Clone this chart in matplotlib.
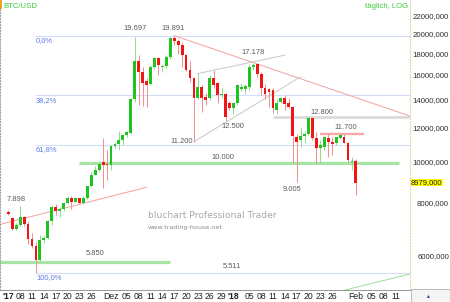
import numpy as np
import pandas as pd
import matplotlib
matplotlib.use("Agg")
import matplotlib.pyplot as plt
from matplotlib.patches import Rectangle

plt.rcParams['font.family'] = ['Liberation Sans', 'DejaVu Sans']

# daily candles, BTC/USD
dates = pd.date_range("2017-11-05", "2018-02-01", freq="D")
opens = [7650, 7410, 6990, 7120, 7450, 7170, 6610, 6380, 5890, 6580,
         6640, 7310, 7860, 7690, 7790, 8050, 8250, 8100, 8240, 8050,
         8250, 8790, 9360, 9600, 10020, 9950,
         9880, 10960, 11080, 11290, 11600, 11750, 14100, 17300, 16300, 15600,
         15300, 16780, 17600, 16800, 16850, 17700, 19640, 19330, 18900, 17940,
         16510, 15800, 14200, 15050, 14260, 14200, 15800, 15390, 14400, 14500,
         13800,
         13440, 13810, 14900, 14900, 15060, 16780, 17050, 16160, 14980, 14900,
         14820, 13300, 13890, 14190, 13810, 13510, 11500, 11300, 11550, 11650,
         12730, 11430, 10820, 10900, 11430, 11180, 11120, 11430, 11500, 11120,
         10030,
         10100]
highs = [7720, 7460, 7230, 7898, 7490, 7300, 6850, 6500, 6750, 6720,
         7330, 7960, 8000, 7860, 8100, 8330, 8370, 8300, 8270, 8370,
         8800, 9500, 9800, 10070, 11440, 10700,
         11000, 11200, 11850, 11600, 11900, 14200, 19697, 17900, 16800, 15850,
         17000, 17700, 17700, 16950, 17900, 19700, 19891, 19500, 19100, 18000,
         17300, 15900, 16250, 15200, 14600, 16100, 16500, 15500, 15000, 14600,
         14000,
         13900, 15300, 15400, 15300, 17100, 17178, 17178, 16300, 15300, 14950,
         14950, 14100, 14300, 14400, 14200, 13600, 11700, 12100, 11800, 12800,
         12750, 11800, 11300, 11450, 11650, 11500, 11500, 11700, 11650, 11200,
         10300,
         10200]
lows = [7540, 6950, 6960, 7080, 7100, 6450, 6300, 5511, 5850, 6480,
        6610, 7150, 7520, 7460, 7680, 7980, 7800, 8080, 8030, 8050,
        8200, 8770, 9350, 9580, 8700, 9100,
        9600, 10800, 10700, 11000, 11500, 11700, 13900, 13700, 13600, 13500,
        15250, 16600, 16100, 16300, 16700, 17500, 18900, 18050, 16780, 16400,
        15500, 11200, 14100, 13150, 13700, 14050, 15000, 13800, 14200, 12500,
        13300,
        13000, 13700, 14700, 14500, 14800, 16500, 15900, 14400, 14100, 13500,
        13100, 13000, 13800, 13300, 13450, 10000, 9005, 10900, 11100, 11600,
        11300, 10000, 10000, 10700, 10310, 10450, 11000, 11350, 11100, 10000,
        9610,
        8390]
closes = [7570, 6980, 7120, 7450, 7160, 6610, 6380, 5890, 6580, 6650,
          7310, 7870, 7690, 7790, 8050, 8260, 8100, 8240, 8050, 8250,
          8790, 9360, 9600, 9950, 9900, 9880,
          10960, 11080, 11290, 11600, 11800, 14100, 17300, 16300, 15400, 15200,
          16780, 17600, 16950, 16850, 17700, 19640, 19330, 18900, 17940, 16510,
          15800, 14200, 15050, 14190, 14040, 15800, 15200, 14400, 14500, 12800,
          13440,
          13810, 15220, 15060, 15150, 16780, 16950, 16160, 14980, 14500, 14660,
          13440, 13810, 14190, 13740, 13510, 11550, 11180, 11550, 11650, 12730,
          11430, 10820, 11000, 11490, 11180, 11050, 11490, 11620, 11120, 10140,
          10100,
          8979]

# chart drawings: (start date, start value, end date, end value)
red_lines = [("2017-12-17", 19891, "2018-02-15", 12840),
             ("2017-11-03", 7160, "2017-12-10", 8750)]
gray_lines = [("2017-12-23", 16200, "2018-01-14", 17900),
              ("2017-12-22", 11200, "2018-01-18", 15920)]
green_thin = ("2018-01-29", 5010, "2018-02-15", 5480)
support_levels = [("2017-11-23", "2018-02-12", 10000), ("2017-11-03", "2017-12-16", 5850)]
resist_red = ("2018-01-23", "2018-02-03", 11700)
resist_gray = ("2018-01-11", "2018-02-15", 12800)

fib_high, fib_low = 19891, 5511
fib_ratios = [0.0, 0.382, 0.618, 1.0]
fib_names = ["0,0%", "38,2%", "61,8%", "100,0%"]
fib_start = "2017-11-12"

# price labels: text, date, value, offset px (dx, dy)
price_labels = [("19.697", "2017-12-07", 19697, 0, 9),
                ("19.891", "2017-12-17", 19891, -1, 7),
                ("17.178", "2018-01-06", 17178, 0, 10),
                ("11.200", "2017-12-22", 11200, -12, 0),
                ("12.500", "2017-12-30", 12500, 7, -5),
                ("12.800", "2018-01-20", 12800, 13, 4.5),
                ("11.700", "2018-01-28", 11700, 5.5, 6.5),
                ("10.000", "2017-12-30", 10000, -3, 5.5),
                ("9.005", "2018-01-17", 9005, -4.5, -7),
                ("7.898", "2017-11-08", 7898, -4.5, 7),
                ("5.850", "2017-11-26", 5850, 4, 8),
                ("5.511", "2017-12-30", 5511, 6.5, 6.5)]

tick_dates = ["2017-11-05", "2017-11-08", "2017-11-11", "2017-11-14", "2017-11-17", "2017-11-20",
              "2017-11-23", "2017-11-26", "2017-12-01", "2017-12-05", "2017-12-08", "2017-12-11",
              "2017-12-14", "2017-12-17", "2017-12-20", "2017-12-23", "2017-12-26", "2017-12-29",
              "2018-01-01", "2018-01-05", "2018-01-08", "2018-01-11", "2018-01-14", "2018-01-17",
              "2018-01-20", "2018-01-23", "2018-01-26", "2018-02-01", "2018-02-05", "2018-02-08",
              "2018-02-11"]
tick_labels = ["'17", "08", "11", "14", "17", "20", "23", "26", "Dez", "05", "08", "11",
               "14", "17", "20", "23", "26", "29", "'18", "05", "08", "11", "14", "17",
               "20", "23", "26", "Feb", "05", "08", "11"]
price_ticks = [22000, 20000, 18000, 16000, 14000, 12000, 10000, 8000, 6000]
last_price = 8979

t0 = dates[0]
def di(d):
    return (pd.Timestamp(d) - t0).days

x = np.array([di(d) for d in dates])
o = np.array(opens, float); h = np.array(highs, float)
l = np.array(lows, float); c = np.array(closes, float)
up = c >= o

W, H = 450, 302
fig = plt.figure(figsize=(W / 100, H / 100), dpi=100)
ax = fig.add_axes([0, 12 / H, 410 / W, 290 / H])
ax.set_yscale('log')
ax.set_xlim(-2.1, 101.7)
ax.set_ylim(5018, 24125)

PX = 0.72  # points per pixel

# fibonacci levels
for r, name in zip(fib_ratios, fib_names):
    lev = fib_high - r * (fib_high - fib_low)
    ax.plot([di(fib_start) - 0.1, 110], [lev, lev], color='#d4dcfa', lw=1.1 * PX, zorder=1)
    ax.annotate(name, (di(fib_start), lev), xytext=(0, -5 * PX), textcoords='offset points',
                ha='left', va='center', fontsize=5.4, color='#5b7be8', zorder=5)

# support / resistance zones
for d0, d1, v in support_levels:
    ax.plot([di(d0), di(d1)], [v, v], color='#a6e4a6', lw=3.2 * PX, solid_capstyle='butt', zorder=1)
ax.plot([di(resist_gray[0]), di(resist_gray[1])], [resist_gray[2]] * 2, color='#d9d9d9',
        lw=2.6 * PX, solid_capstyle='butt', zorder=1)
ax.plot([di(resist_red[0]), di(resist_red[1])], [resist_red[2]] * 2, color='#f6a8a8',
        lw=2.4 * PX, solid_capstyle='butt', zorder=1)

for d0, v0, d1, v1 in red_lines:
    ax.plot([di(d0), di(d1)], [v0, v1], color='#f4a2a2', lw=1.0 * PX, zorder=2)
for d0, v0, d1, v1 in gray_lines:
    ax.plot([di(d0), di(d1)], [v0, v1], color='#c8c8c8', lw=1.0 * PX, zorder=2)
ax.plot([di(green_thin[0]), di(green_thin[2])], [green_thin[1], green_thin[3]],
        color='#9ede9e', lw=1.0 * PX, zorder=2)

# candles
ax.vlines(x[up], l[up], h[up], color='#8fdf8f', lw=1.0 * PX, zorder=3)
ax.vlines(x[~up], l[~up], h[~up], color='#f59090', lw=1.0 * PX, zorder=3)
bot = np.minimum(o, c)
top = np.maximum(o, c)
top = np.maximum(top, bot * 1.004)
ax.bar(x[up], top[up] - bot[up], bottom=bot[up], width=0.72, color='#1fc41f', zorder=4, linewidth=0)
ax.bar(x[~up], top[~up] - bot[~up], bottom=bot[~up], width=0.72, color='#f01616', zorder=4, linewidth=0)

# price labels
for txt, d, v, dx, dy in price_labels:
    ax.annotate(txt, (di(d), v), xytext=(dx * PX, dy * PX), textcoords='offset points',
                ha='center', va='center', fontsize=5.4, color='#5a5a5a', zorder=6)

# axes styling
ax.spines['top'].set_visible(False)
ax.spines['left'].set_linestyle(':')
ax.spines['left'].set_color('#a0a0a0')
ax.spines['right'].set_linestyle(':')
ax.spines['right'].set_color('#e4d8a8')
ax.spines['bottom'].set_color('#9a9a9a')
ax.spines['bottom'].set_linewidth(1.0 * PX)
ax.yaxis.set_major_locator(matplotlib.ticker.NullLocator())
ax.yaxis.set_minor_locator(matplotlib.ticker.NullLocator())
ax.set_xticks([di(d) for d in tick_dates])
ax.set_xticklabels(tick_labels)
ax.tick_params(axis='x', length=0, pad=1.5, labelsize=6.2, labelcolor='#202020')
for lab in ax.get_xticklabels():
    if lab.get_text().startswith("'"):
        lab.set_fontweight('bold')

ytr = ax.get_yaxis_transform()
for v in price_ticks:
    ax.text(449 / 410, v, f"{v},000", transform=ytr, ha='right', va='center',
            fontsize=5.6, color='#303030', clip_on=False)
ax.text(411 / 410, last_price, f"{last_price},000", transform=ytr, ha='left', va='center',
        fontsize=5.4, color='#202020', clip_on=False,
        bbox=dict(boxstyle='square,pad=0.05', fc='#ffff00', ec='none'))

# header and watermark
fig.text(3 / W, 1 - 6 / H, "BTC/USD", color='#3cc83c', fontsize=5.6, va='center', ha='left')
fig.text(408 / W, 1 - 6 / H, "täglich, LOG", color='#3cc83c', fontsize=5.6, va='center', ha='right')
fig.patches.append(Rectangle((0, 1 - 9 / H), 2 / W, 9 / H, transform=fig.transFigure,
                             fc='#f0a030', ec='none'))
fig.text(148 / W, 1 - 216 / H, "bluchart Professional Trader", color='#a8a8a8',
         fontsize=6.6, family='DejaVu Sans', va='center', ha='left')
fig.text(148 / W, 1 - 227 / H, "www.trading-house.net", color='#8c8c8c',
         fontsize=4.6, family='DejaVu Sans', va='center', ha='left')

# corner box
fig.patches.append(Rectangle((411 / W, 0), 39 / W, 13 / H, transform=fig.transFigure,
                             fc='#f4f4f4', ec='#b8b8b8', lw=0.7))
fig.text(428 / W, 6 / H, "▴", color='#2030a0', fontsize=4, ha='center', va='center')

fig.savefig("out.png", dpi=100)
